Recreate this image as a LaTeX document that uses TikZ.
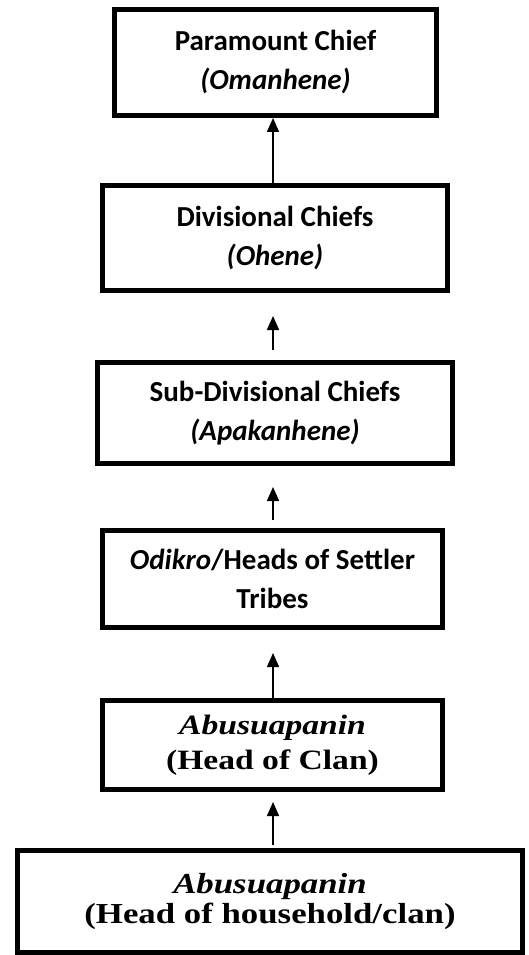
\documentclass[tikz,border=0pt]{standalone}
\usepackage{fontspec}
\newfontfamily\calfont{Carlito}
\newfontfamily\serfont[FakeStretch=1.2]{Liberation Serif}
\usetikzlibrary{arrows.meta}
\begin{document}
\begin{tikzpicture}[x=1pt,y=-1pt,
  box/.style={draw, line width=5pt, rectangle, inner sep=0pt, align=center},
  caltext/.style={font=\calfont\bfseries\fontsize{29}{39}\selectfont},
  sertext/.style={font=\serfont\bfseries\fontsize{28}{35}\selectfont},
  sertextb/.style={font=\serfont\bfseries\fontsize{29}{30}\selectfont},
  arr/.style={line width=1.5pt, -{Triangle[length=14pt,width=12pt]}}]
\useasboundingbox (0,0) rectangle (528,955);
\node[box, caltext, minimum width=322pt, minimum height=106pt] (b1) at (275.5,62.5)
  {Paramount Chief\\\textit{(Omanhene)}};
\node[box, caltext, minimum width=345pt, minimum height=105pt] (b2) at (275,238)
  {Divisional Chiefs\\\textit{(Ohene)}};
\node[box, caltext, minimum width=355pt, minimum height=101pt] (b3) at (275,413)
  {Sub-Divisional Chiefs\\\textit{(Apakanhene)}};
\node[box, caltext, minimum width=340pt, minimum height=97pt] (b4) at (272.5,579)
  {\textit{Odikro}/Heads of Settler\\Tribes};
\node[box, sertext, minimum width=340pt, minimum height=89pt] (b5) at (272.5,745)
  {\textit{Abusuapanin}\\(Head of Clan)};
\node[box, sertextb, minimum width=505pt, minimum height=102pt] (b6) at (270,901.5)
  {\textit{Abusuapanin}\\(Head of household/clan)};
\coordinate (a1t) at (273,183);
\coordinate (a1h) at (273,118);
\coordinate (a2t) at (273,350);
\coordinate (a2h) at (273,316);
\coordinate (a3t) at (273,520);
\coordinate (a3h) at (273,487);
\coordinate (a4t) at (273,698);
\coordinate (a4h) at (273,653);
\coordinate (a5t) at (273,845);
\coordinate (a5h) at (273,802);
\draw[arr] (a1t) -- (a1h);
\draw[arr] (a2t) -- (a2h);
\draw[arr] (a3t) -- (a3h);
\draw[arr] (a4t) -- (a4h);
\draw[arr] (a5t) -- (a5h);
\end{tikzpicture}
\end{document}
